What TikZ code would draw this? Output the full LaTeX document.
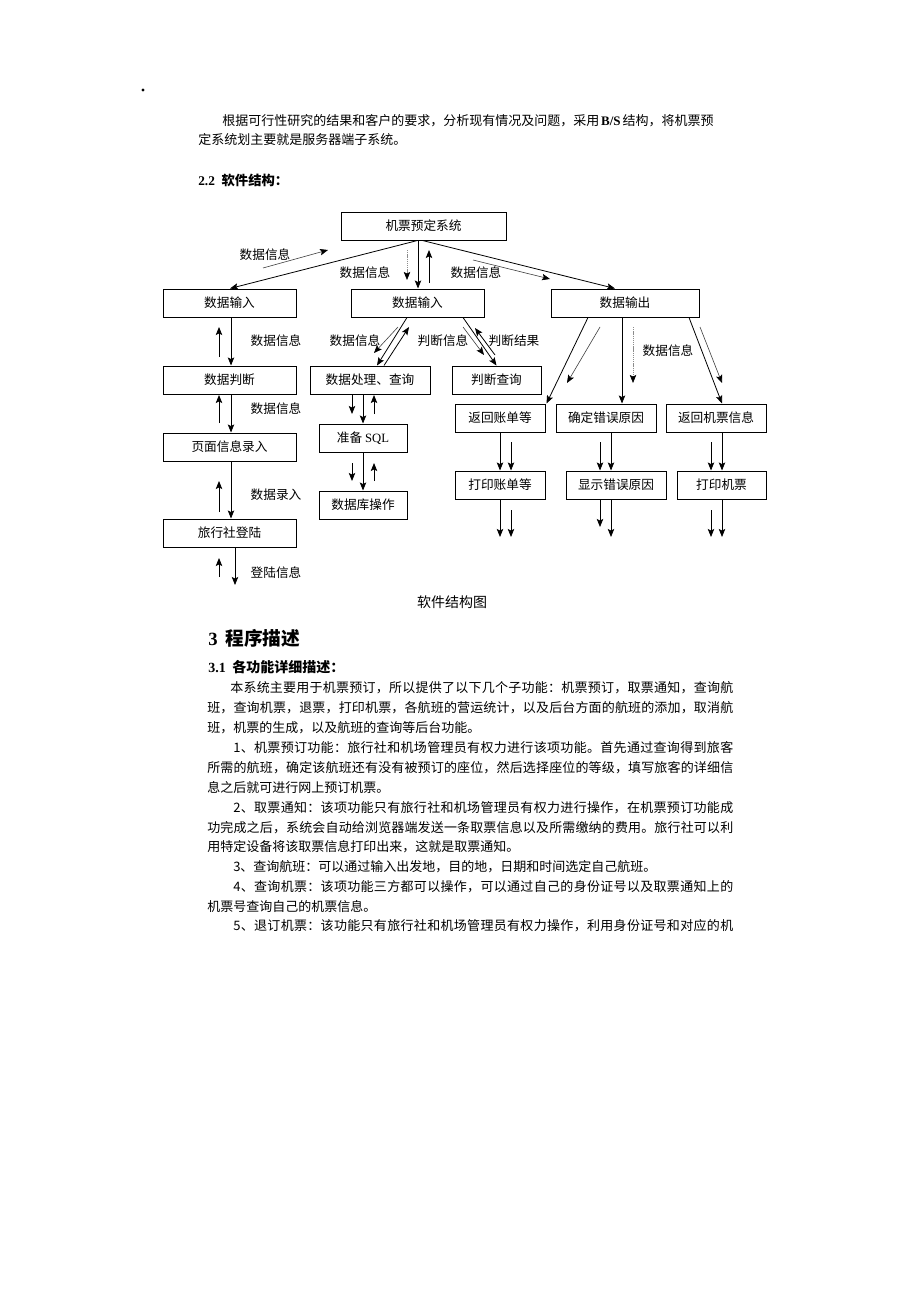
\documentclass[tikz,border=0pt]{standalone}
\usepackage{fontspec}
\setmainfont{Noto Sans CJK SC}
\newfontfamily\lat{Liberation Serif}
\usetikzlibrary{arrows.meta,calc}
\newcount\cjkcnt
\cjkcnt="4E00
\loop\XeTeXcharclass\cjkcnt=1 \advance\cjkcnt by 1 \ifnum\cjkcnt<"A000 \repeat
\XeTeXcharclass"3001=1 \XeTeXcharclass"3002=1 \XeTeXcharclass"FF0C=1 \XeTeXcharclass"FF1A=1
\XeTeXinterchartoks 1 1 = {\hskip 0pt plus 1pt}
\XeTeXinterchartoks 0 1 = {\hskip 0pt plus 1pt}
\XeTeXinterchartoks 1 0 = {\hskip 0pt plus 1pt}
\newcommand\jus[2]{\makebox[#1][s]{\XeTeXinterchartokenstate=1 #2}}
\newcommand\bx[6]{\node[box,minimum width={(#4-#2)*0.75pt},minimum height={(#5-#3)*0.75pt}] (#1) at ({(#2+#4)/2},{(#3+#5)/2}) {#6};}
\tikzset{
 box/.style={draw,line width=0.75pt,inner sep=0pt,font=\fontsize{9.5pt}{11pt}\selectfont},
 lab/.style={inner sep=0pt,font=\fontsize{9.5pt}{11pt}\selectfont},
 conn/.style={line width=0.6pt,-{Stealth[length=6pt,width=4.8pt,inset=1.2pt]}},
 thinarr/.style={line width=0.45pt,black!75,-{Stealth[length=6pt,width=4.8pt,inset=1.2pt,color=black]}},
 faint/.style={line width=0.5pt,black!45,dash pattern=on 1pt off 0.6pt,-{Stealth[length=6pt,width=4.8pt,inset=1.2pt,color=black]}},
 txt/.style={inner sep=0pt,anchor=west,font=\fontsize{9.75pt}{12pt}\selectfont}
}
\begin{document}
\begin{tikzpicture}[x=0.75pt,y=-0.75pt]
\useasboundingbox (0,0) rectangle (920,1302);
\fill[white] (0,0) rectangle (920,1302);
\node[circle,fill,inner sep=0.8pt] (dot) at (143,90) {};
% paragraph 1
\node[txt] (p1a) at (222,121) {\jus{368.25pt}{根据可行性研究的结果和客户的要求，分析现有情况及问题，采用 {\lat\bfseries B/S} 结构，将机票预}};
\node[txt] (p1b) at (198,140) {定系统划主要就是服务器端子系统。};
\node[txt,font=\fontsize{10pt}{12pt}\selectfont\bfseries] (h22) at (198,180) {{\lat\bfseries 2.2}\hspace{5pt}软件结构：};
% boxes
\bx{T}{341}{212}{506}{240}{机票预定系统}
\bx{L1}{163}{289}{296}{317}{数据输入}
\bx{M1}{351}{289}{484}{317}{数据输入}
\bx{R1}{551}{289}{699}{317}{数据输出}
\bx{L2}{163}{366}{296}{394}{数据判断}
\bx{M2}{310}{366}{430}{394}{数据处理、查询}
\bx{J}{452}{366}{541}{394}{判断查询}
\bx{R2a}{455}{404}{545}{432}{返回账单等}
\bx{R2b}{556}{404}{656}{432}{确定错误原因}
\bx{R2c}{666}{404}{766}{432}{返回机票信息}
\bx{L3}{163}{433}{296}{461}{页面信息录入}
\bx{M3}{319}{424}{407}{452}{准备 {\lat SQL}}
\bx{R3a}{455}{471}{545}{499}{打印账单等}
\bx{R3b}{566}{471}{666}{499}{显示错误原因}
\bx{R3c}{677}{471}{766}{499}{打印机票}
\bx{M4}{319}{491}{407}{519}{数据库操作}
\bx{L4}{163}{519}{296}{547}{旅行社登陆}
% labels
\node[lab] (la1) at (265,255) {数据信息};
\node[lab] (la2) at (365,273) {数据信息};
\node[lab] (la3) at (476,273) {数据信息};
\node[lab] (la4) at (276,341) {数据信息};
\node[lab] (la5) at (355,341) {数据信息};
\node[lab] (la6) at (443,341) {判断信息};
\node[lab] (la7) at (514,341) {判断结果};
\node[lab] (la8) at (668,351) {数据信息};
\node[lab] (la9) at (276,409) {数据信息};
\node[lab] (la10) at (276,495) {数据录入};
\node[lab] (la11) at (276,573) {登陆信息};
% top connectors
\draw[conn] ($(T.south)+(-6,0)$) -- ($(L1.north)+(0.5,0)$);
\draw[conn] ($(T.south)+(-5.5,0)$) -- ($(M1.north)+(0.5,0)$);
\draw[conn] ($(T.south)+(-1,0)$) -- ($(R1.north)+(-10,0)$);
\draw[thinarr] (263,268) -- (328,250);
\draw[faint] (407,250) -- (407,280);
\draw[conn] (429,283) -- (429,250);
\draw[thinarr] (473,260) -- (550,279);
% middle split
\draw[conn] ($(M1.south)+(-10.5,0)$) -- ($(M2.north)+(7,0)$);
\draw[thinarr] (398,327) -- (374,353);
\draw[conn] ($(M2.north)+(14,0)$) -- (409,327);
\draw[conn] ($(M1.south)+(45.5,0)$) -- (J.north);
\draw[thinarr] (463,327) -- (484,355);
\draw[conn] (495,355) -- (475,328);
% left column
\draw[conn] ($(L1.south)+(1.5,0)$) -- ($(L2.north)+(1.5,0)$);
\draw[conn] (219,357) -- (219,327);
\draw[conn] ($(L2.south)+(1.5,0)$) -- ($(L3.north)+(1.5,0)$);
\draw[conn] (219,423) -- (219,395);
\draw[conn] ($(L3.south)+(1.5,0)$) -- ($(L4.north)+(1.5,0)$);
\draw[conn] (219,512) -- (219,481);
\coordinate (Lend) at (235,585);
\draw[conn] ($(L4.south)+(5.5,0)$) -- (Lend);
\draw[conn] (219,577) -- (219,558);
% middle column
\draw[conn] ($(M2.south)+(-7,0)$) -- (M3.north);
\draw[conn] (352,395) -- (352,414);
\draw[conn] (374,414) -- (374,395);
\draw[conn] (M3.south) -- (M4.north);
\draw[conn] (352,463) -- (352,481);
\draw[conn] (374,481) -- (374,463);
% right
\draw[conn] ($(R1.south)+(-37,0)$) -- ($(R2a.north east)+(1,0)$);
\draw[thinarr] (600,327) -- (567,383);
\draw[conn] ($(R1.south)+(-3,0)$) -- ($(R2b.north)+(16,0)$);
\draw[faint] (633,327) -- (633,383);
\draw[conn] ($(R1.south)+(64,0)$) -- ($(R2c.north)+(6,0)$);
\draw[thinarr] (700,327) -- (722,383);
\draw[conn] (R2a.south) -- (R3a.north);
\draw[conn] (511,442) -- ($(R3a.north)+(11,0)$);
\draw[conn] (R3a.south) -- (500,537);
\draw[conn] (511,510) -- (511,537);
\draw[conn] ($(R2b.south)+(5,0)$) -- ($(R3b.north)+(-5,0)$);
\draw[conn] (600,442) -- ($(R3b.north)+(-16,0)$);
\draw[conn] ($(R3b.south)+(-16,0)$) -- (600,527);
\draw[conn] ($(R3b.south)+(-5,0)$) -- (611,537);
\draw[conn] ($(R2c.south)+(6,0)$) -- ($(R3c.north)+(0.5,0)$);
\draw[conn] (711,442) -- ($(R3c.north)+(-10.5,0)$);
\draw[conn] (711,510) -- (711,537);
\draw[conn] ($(R3c.south)+(0.5,0)$) -- (722,537);
% caption and section 3
\node[lab,font=\fontsize{10.5pt}{12pt}\selectfont] (cap) at (452,602) {软件结构图};
\node[txt,font=\fontsize{14pt}{16pt}\selectfont\bfseries] (h3) at (208,638) {{\lat\bfseries 3}\hspace{6pt}程序描述};
\node[txt,font=\fontsize{10.5pt}{12pt}\selectfont\bfseries] (h31) at (208,667) {{\lat\bfseries 3.1}\hspace{5pt}各功能详细描述：};
\node[txt] (q1) at (230,688) {\jus{377.25pt}{本系统主要用于机票预订，所以提供了以下几个子功能：机票预订，取票通知，查询航}};
\node[txt] (q2) at (207,708) {\jus{394.5pt}{班，查询机票，退票，打印机票，各航班的营运统计，以及后台方面的航班的添加，取消航}};
\node[txt] (q3) at (207,728) {班，机票的生成，以及航班的查询等后台功能。};
\node[txt] (q4) at (233,748) {\jus{375pt}{1、机票预订功能：旅行社和机场管理员有权力进行该项功能。首先通过查询得到旅客}};
\node[txt] (q5) at (207,768) {\jus{394.5pt}{所需的航班，确定该航班还有没有被预订的座位，然后选择座位的等级，填写旅客的详细信}};
\node[txt] (q6) at (207,788) {息之后就可进行网上预订机票。};
\node[txt] (q7) at (233,808) {\jus{375pt}{2、取票通知：该项功能只有旅行社和机场管理员有权力进行操作，在机票预订功能成}};
\node[txt] (q8) at (207,828) {\jus{394.5pt}{功完成之后，系统会自动给浏览器端发送一条取票信息以及所需缴纳的费用。旅行社可以利}};
\node[txt] (q9) at (207,847) {用特定设备将该取票信息打印出来，这就是取票通知。};
\node[txt] (q10) at (233,867) {3、查询航班：可以通过输入出发地，目的地，日期和时间选定自己航班。};
\node[txt] (q11) at (233,887) {\jus{375pt}{4、查询机票：该项功能三方都可以操作，可以通过自己的身份证号以及取票通知上的}};
\node[txt] (q12) at (207,907) {机票号查询自己的机票信息。};
\node[txt] (q13) at (233,926) {\jus{375pt}{5、退订机票：该功能只有旅行社和机场管理员有权力操作，利用身份证号和对应的机}};
\end{tikzpicture}
\end{document}
